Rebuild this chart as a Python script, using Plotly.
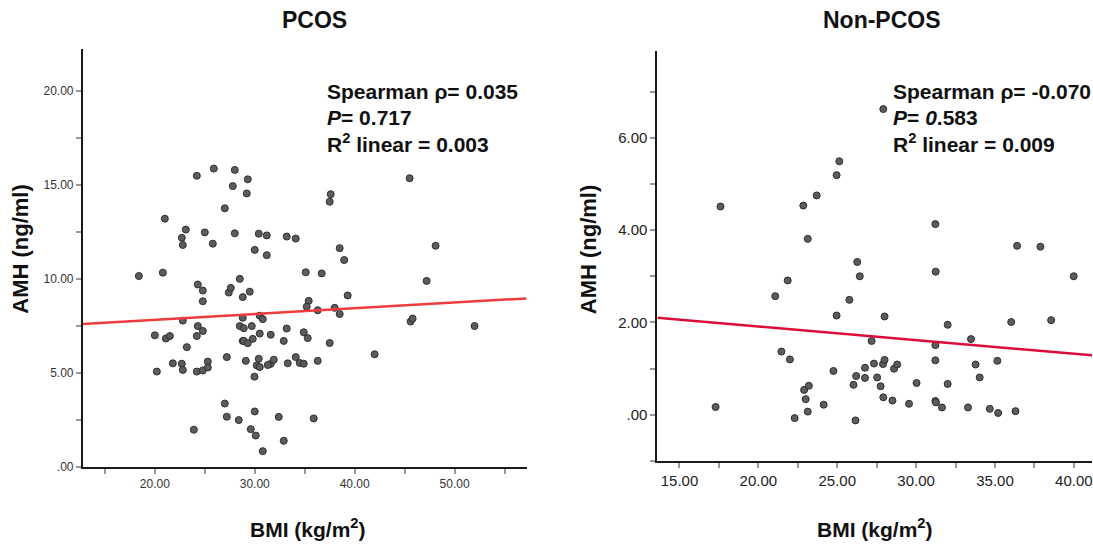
import plotly.graph_objects as go

# ---------------- data ----------------
pcos_bmi = [18.4, 20.8, 21.0, 20.0, 20.2, 21.1, 21.5, 21.8, 22.7, 22.8, 23.1, 22.8, 23.2, 22.7, 22.8,
            23.9, 24.2, 24.3, 24.3, 24.2, 24.2, 24.8, 24.8, 24.8, 24.8, 25.0, 25.3, 25.3, 25.9, 25.8,
            27.0, 27.8, 28.0, 28.0, 27.4, 27.6, 27.2, 27.0, 27.2, 28.5, 28.8, 28.8, 28.5, 28.9, 28.8,
            28.9, 29.3, 29.1, 28.4, 29.3, 29.2, 29.5, 29.7, 29.8, 29.6, 30.1, 30.0, 29.97, 30.0, 30.4,
            30.5, 30.8, 30.5, 30.4, 30.2, 30.5, 30.8, 31.2, 31.2, 31.6, 31.6, 31.3, 31.9, 32.4, 32.9,
            33.2, 34.1, 33.2, 32.9, 33.3, 34.1, 34.5, 34.9, 34.9, 35.3, 35.1, 35.4, 35.2, 36.3, 36.3,
            35.9, 36.7, 37.5, 37.6, 37.5, 38.5, 38.95, 38.0, 38.5, 39.3, 42.0, 45.5, 45.6, 45.8, 47.2,
            48.1, 52.0]
pcos_amh = [10.15, 10.33, 13.2, 7.0, 5.07, 6.83, 6.96, 5.51, 12.18, 11.8, 12.62, 7.78, 6.37, 5.49, 5.16,
            1.98, 15.48, 9.7, 7.49, 6.96, 5.07, 9.38, 8.81, 7.23, 5.13, 12.47, 5.6, 5.29, 15.86, 11.87,
            13.75, 14.93, 15.79, 12.42, 9.27, 9.52, 5.84, 3.37, 2.67, 10.0, 9.03, 7.93, 7.49, 7.38, 6.7,
            6.7, 6.58, 5.64, 2.49, 15.29, 14.54, 9.32, 7.49, 6.81, 2.01, 1.67, 2.95, 4.8, 11.54, 12.4,
            8.04, 7.86, 7.09, 5.75, 5.4, 5.31, 0.84, 12.31, 11.26, 7.03, 5.48, 5.42, 5.7, 2.66, 1.39,
            12.25, 12.14, 7.36, 6.7, 5.51, 5.84, 5.53, 5.49, 7.16, 6.85, 10.35, 8.83, 8.52, 8.33, 5.64,
            2.58, 10.29, 14.1, 14.5, 6.59, 11.63, 11.0, 8.46, 8.13, 9.12, 5.99, 15.35, 7.73, 7.89, 9.89,
            11.76, 7.49]

non_bmi = [17.29, 17.6, 21.07, 21.86, 21.46, 22.0, 22.3, 22.85, 23.13, 23.7, 22.9, 23.2, 23.0, 23.13,
           24.14, 24.96, 25.13, 24.96, 24.76, 25.77, 26.27, 26.43, 26.03, 26.2, 26.76, 26.76, 26.16,
           27.18, 27.33, 27.53, 27.75, 27.9, 28.0, 27.92, 27.92, 28.0, 28.6, 28.8, 28.5, 29.55, 30.03,
           31.22, 31.24, 31.22, 31.22, 31.22, 31.26, 31.64, 32.0, 32.0, 33.29, 33.48, 33.77, 34.03,
           34.67, 35.15, 35.2, 36.03, 36.3, 36.4, 37.88, 38.56, 39.99]
non_amh = [0.17, 4.51, 2.57, 2.91, 1.37, 1.20, -0.07, 4.53, 3.81, 4.75, 0.54, 0.63, 0.34, 0.07,
           0.22, 5.19, 5.49, 2.15, 0.95, 2.49, 3.31, 3.0, 0.65, 0.84, 1.02, 0.80, -0.12,
           1.60, 1.11, 0.81, 0.62, 1.10, 1.19, 0.38, 6.62, 2.13, 1.0, 1.09, 0.31, 0.24, 0.69,
           4.13, 3.10, 1.51, 1.18, 0.30, 0.27, 0.16, 1.95, 0.67, 0.16, 1.64, 1.09, 0.81,
           0.13, 1.17, 0.04, 2.01, 0.08, 3.66, 3.64, 2.05, 3.0]

# linear fit lines (intercept, slope)
pcos_fit = (7.21, 0.0306)
non_fit = (2.50, -0.0294)

# axis ranges and ticks
pcos_xrange = [12.8, 57.2]
pcos_yrange = [0, 22.2]
non_xrange = [13.6, 41.15]
non_yrange = [-1.0, 7.87]

pcos_xticks = [20, 30, 40, 50]
pcos_xticktext = ["20.00", "30.00", "40.00", "50.00"]
pcos_xminor = [15, 25, 35, 45, 55]
pcos_yticks = [0, 5, 10, 15, 20]
pcos_yticktext = [".00", "5.00", "10.00", "15.00", "20.00"]
pcos_yminor = [2.5, 7.5, 12.5, 17.5]

non_xticks = [15, 20, 25, 30, 35, 40]
non_xticktext = ["15.00", "20.00", "25.00", "30.00", "35.00", "40.00"]
non_xminor = [17.5, 22.5, 27.5, 32.5, 37.5]
non_yticks = [0, 2, 4, 6]
non_yticktext = [".00", "2.00", "4.00", "6.00"]
non_yminor = [-1, 1, 3, 5, 7]

titles = ["PCOS", "Non-PCOS"]
ytitle = "AMH (ng/ml)"
xtitle = "BMI (kg/m<sup>2</sup>)"
pcos_stats = ["Spearman ρ= 0.035", "<i>P</i>= 0.717", "R<sup>2</sup> linear = 0.003"]
non_stats = ["Spearman ρ= -0.070", "<i>P</i>= <i>0</i>.583", "R<sup>2</sup> linear = 0.009"]

# ---------------- figure ----------------
W, H = 1093, 548
fig = go.Figure()

marker = dict(size=7, color="#5c5c5c", line=dict(color="#2e2e2e", width=1))

fig.add_trace(go.Scatter(x=pcos_bmi, y=pcos_amh, mode="markers", marker=marker,
                         xaxis="x", yaxis="y", showlegend=False))
fig.add_trace(go.Scatter(x=pcos_xrange, y=[pcos_fit[0] + pcos_fit[1] * v for v in pcos_xrange],
                         mode="lines", line=dict(color="#f03c3c", width=2.5),
                         xaxis="x", yaxis="y", showlegend=False))
fig.add_trace(go.Scatter(x=non_bmi, y=non_amh, mode="markers", marker=marker,
                         xaxis="x2", yaxis="y2", showlegend=False))
fig.add_trace(go.Scatter(x=non_xrange, y=[non_fit[0] + non_fit[1] * v for v in non_xrange],
                         mode="lines", line=dict(color="#dc0c3a", width=2.5),
                         xaxis="x2", yaxis="y2", showlegend=False))

tickfont_l = dict(family="Liberation Sans, Arial, sans-serif", size=12, color="#333")
tickfont_r = dict(family="Liberation Sans, Arial, sans-serif", size=15, color="#222")

def axis(domain, rng, tickvals, ticktext, minor, font, anchor):
    return dict(domain=domain, range=rng, tickmode="array", tickvals=tickvals, ticktext=ticktext,
                showline=True, linecolor="#1a1a1a", linewidth=2, mirror=False,
                ticks="outside", ticklen=5, tickwidth=1.5, tickcolor="#999",
                minor=dict(tickvals=minor, ticks="outside", ticklen=5, tickwidth=1.5, tickcolor="#999"),
                showgrid=False, zeroline=False, tickfont=font, anchor=anchor, fixedrange=True,
                ticklabeloverflow="allow")

fig.update_layout(
    width=W, height=H,
    margin=dict(l=0, r=0, t=0, b=0),
    paper_bgcolor="white", plot_bgcolor="white",
    xaxis=axis([83 / W, 527 / W], pcos_xrange, pcos_xticks, pcos_xticktext, pcos_xminor, tickfont_l, "y"),
    yaxis=axis([1 - 473 / H, 1 - 50 / H], pcos_yrange, pcos_yticks, pcos_yticktext, pcos_yminor, tickfont_l, "x"),
    xaxis2=axis([658 / W, 1.0], non_xrange, non_xticks, non_xticktext, non_xminor, tickfont_r, "y2"),
    yaxis2=axis([1 - 467 / H, 1 - 52 / H], non_yrange, non_yticks, non_yticktext, non_yminor, tickfont_r, "x2"),
)

bold = dict(family="Liberation Sans, Arial, sans-serif", size=21, color="#111")
ann = []
# panel titles
ann.append(dict(text="<b>%s</b>" % titles[0], x=315 / W, y=1 - 20 / H, font=dict(bold, size=23)))
ann.append(dict(text="<b>%s</b>" % titles[1], x=883 / W, y=1 - 20 / H, font=dict(bold, size=23)))
# axis titles
ann.append(dict(text="<b>%s</b>" % ytitle, x=21 / W, y=1 - 252 / H, textangle=-90, font=dict(bold, size=22)))
ann.append(dict(text="<b>%s</b>" % ytitle, x=589 / W, y=1 - 252 / H, textangle=-90, font=dict(bold, size=22)))
ann.append(dict(text="<b>%s</b>" % xtitle, x=308 / W, y=1 - 535 / H, font=bold))
ann.append(dict(text="<b>%s</b>" % xtitle, x=876 / W, y=1 - 535 / H, font=bold))
# stats text
stat_font = dict(family="Liberation Sans, Arial, sans-serif", size=21, color="#111")
for i, yy in enumerate([93, 119, 145]):
    ann.append(dict(text="<b>%s</b>" % pcos_stats[i], x=325 / W, y=1 - yy / H, xanchor="left", font=stat_font))
    ann.append(dict(text="<b>%s</b>" % non_stats[i], x=892 / W, y=1 - yy / H, xanchor="left", font=stat_font))

for a in ann:
    a.setdefault("xanchor", "center")
    a.update(xref="paper", yref="paper", yanchor="middle", showarrow=False)
fig.update_layout(annotations=ann)

fig.write_html("out.html", config={"displayModeBar": False},
               post_script="document.body.style.margin='0';document.body.style.overflow='hidden';")
